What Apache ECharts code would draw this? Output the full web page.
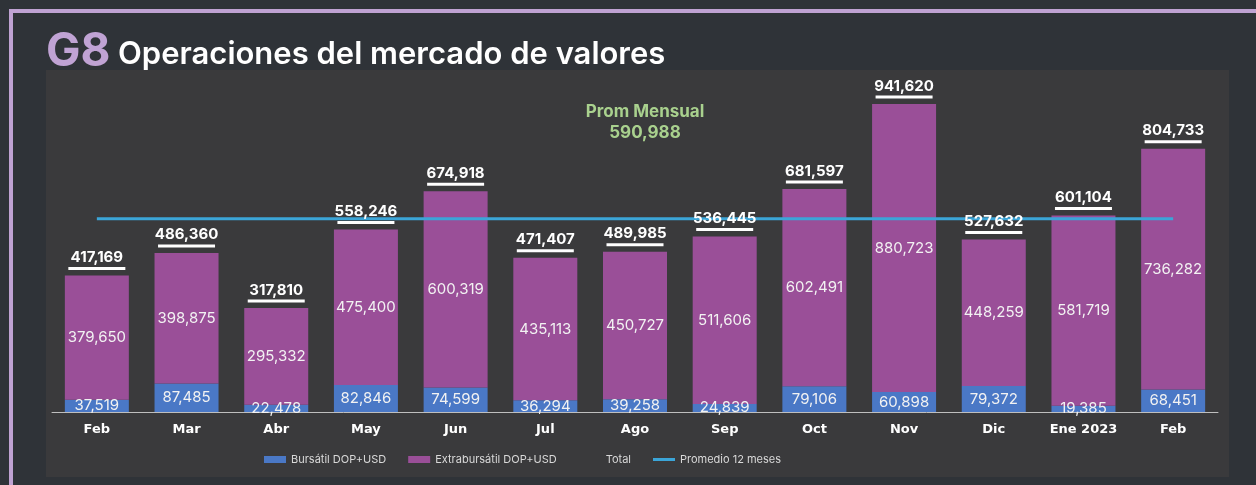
<!DOCTYPE html>
<html>
<head>
<meta charset="utf-8">
<script src="https://cdn.jsdelivr.net/npm/echarts@6/dist/echarts.min.js"></script>
<style>
  html, body { margin: 0; padding: 0; background: #2f3338; }
  #main { width: 1256px; height: 485px; }
</style>
</head>
<body>
<div id="main"></div>
<script>
// datos del gráfico
var meses = ['Feb', 'Mar', 'Abr', 'May', 'Jun', 'Jul', 'Ago', 'Sep', 'Oct', 'Nov', 'Dic', 'Ene 2023', 'Feb'];
var bursatil = [37519, 87485, 22478, 82846, 74599, 36294, 39258, 24839, 79106, 60898, 79372, 19385, 68451];
var extrabursatil = [379650, 398875, 295332, 475400, 600319, 435113, 450727, 511606, 602491, 880723, 448259, 581719, 736282];
var totales = [417169, 486360, 317810, 558246, 674918, 471407, 489985, 536445, 681597, 941620, 527632, 601104, 804733];
var promedio = [590988, 590988, 590988, 590988, 590988, 590988, 590988, 590988, 590988, 590988, 590988, 590988, 590988];
var promMensual = 590988;

function fmt(v) { return v.toLocaleString('en-US'); }

var myChart = echarts.init(document.getElementById('main'));
var fuente = 'Inter, "Noto Sans", sans-serif';

myChart.setOption({
    backgroundColor: '#2f3338',
    animation: false,
    graphic: [
        // marco lila
        { type: 'rect', shape: { x: 11, y: 11, width: 1270, height: 500 },
          style: { fill: 'none', stroke: '#bfa2d2', lineWidth: 4 }, z: -10 },
        // panel del gráfico
        { type: 'rect', shape: { x: 46, y: 70, width: 1183, height: 407 },
          style: { fill: '#3a3a3c' }, z: -9 },
        { type: 'text', x: 46, y: 29,
          style: { text: 'G8', fill: '#c0a3d4', font: 'bold 46px ' + fuente, verticalAlign: 'top' } },
        { type: 'text', x: 118, y: 39,
          style: { text: 'Operaciones del mercado de valores', fill: '#ffffff', font: '600 31px ' + fuente,
                   verticalAlign: 'top' } },
        { type: 'text', x: 645, y: 101,
          style: { text: 'Prom Mensual\n' + fmt(promMensual), fill: '#a9d18e', font: 'bold 17px ' + fuente,
                   align: 'center', lineHeight: 21 } }
    ],
    legend: {
        bottom: 15,
        left: 259,
        itemWidth: 22,
        itemHeight: 7,
        itemGap: 22,
        textStyle: { color: '#d9d9d9', fontSize: 11, fontFamily: fuente },
        data: [
            { name: 'Bursátil DOP+USD', icon: 'rect' },
            { name: 'Extrabursátil DOP+USD', icon: 'rect' },
            { name: 'Total', icon: 'rect', itemStyle: { opacity: 0 } },
            { name: 'Promedio 12 meses', icon: 'path://M0,0H22V3H0Z' }
        ]
    },
    grid: { left: 52, right: 38, top: 85, bottom: 73 },
    xAxis: {
        type: 'category',
        data: meses,
        axisLine: { lineStyle: { color: '#bfbfbf' } },
        axisTick: { inside: true, length: 4, lineStyle: { color: '#bfbfbf' } },
        axisLabel: { color: '#ffffff', fontWeight: 'bold', fontSize: 13, fontFamily: '"DejaVu Sans", sans-serif',
                     margin: 11 }
    },
    yAxis: { type: 'value', min: 0, max: 1000000, show: false, splitLine: { show: false } },
    series: [
        {
            name: 'Bursátil DOP+USD', type: 'bar', stack: 'a', barWidth: 64,
            data: bursatil,
            itemStyle: { color: '#4a78c6' },
            label: { show: true, position: 'inside', color: '#f2f2f2', fontSize: 15, fontFamily: fuente,
                     formatter: function (p) { return fmt(p.value); } }
        },
        {
            name: 'Extrabursátil DOP+USD', type: 'bar', stack: 'a',
            data: extrabursatil,
            itemStyle: { color: '#9a4f98' },
            label: { show: true, position: 'inside', color: '#f2f2f2', fontSize: 15, fontFamily: fuente,
                     formatter: function (p) { return fmt(p.value); } }
        },
        {
            name: 'Total', type: 'line', data: totales,
            symbol: 'circle', symbolSize: 1, showSymbol: true,
            lineStyle: { width: 0, opacity: 0 }, itemStyle: { color: 'rgba(0,0,0,0)' },
            z: 5,
            label: {
                show: true, position: 'top', distance: 5,
                formatter: function (p) { return '{t|' + fmt(p.value) + '}\n{u|}'; },
                rich: {
                    t: { color: '#ffffff', fontWeight: 'bold', fontSize: 15, fontFamily: fuente, lineHeight: 19 },
                    u: { backgroundColor: '#ffffff', width: 57, height: 3 }
                }
            }
        },
        {
            name: 'Promedio 12 meses', type: 'line', data: promedio,
            symbol: 'none', z: 3,
            itemStyle: { color: '#3ba5d8' },
            lineStyle: { color: '#3ba5d8', width: 3 }
        }
    ]
});
</script>
</body>
</html>
